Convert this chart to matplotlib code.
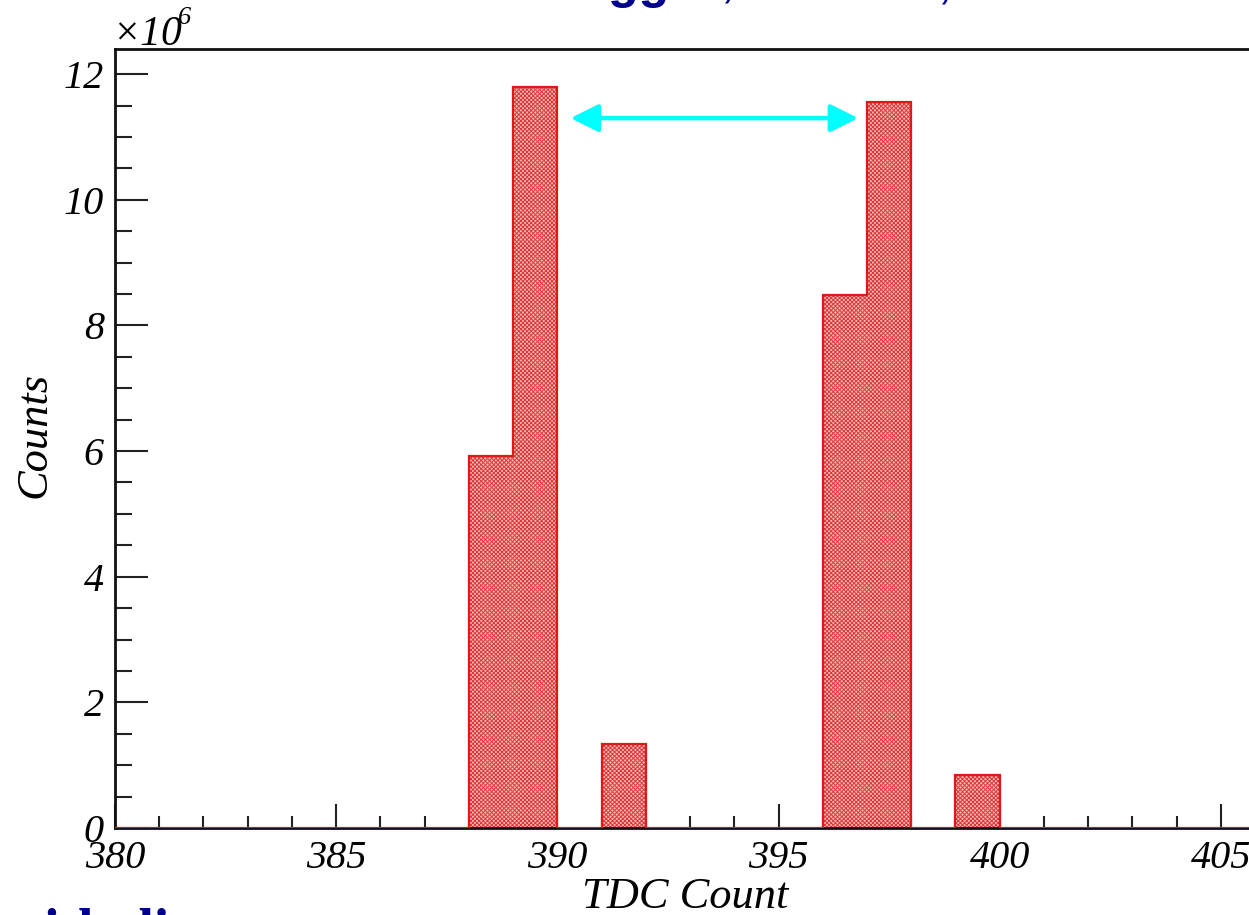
import numpy as np
import matplotlib.pyplot as plt
from matplotlib.ticker import MultipleLocator

# TDC histogram, one count per bin, counts in units of 1e6
bin_edges = np.arange(380, 411, 1)
bin_lo = [388, 389, 391, 396, 397, 399]
bin_val = [5.92, 11.8, 1.34, 8.49, 11.56, 0.84]

# separation marker between the two peaks
arrow_x = [390.3, 396.8]
arrow_y = 11.3

counts = np.zeros(len(bin_edges) - 1)
for lo, v in zip(bin_lo, bin_val):
    counts[lo - 380] = v

serif = 'Liberation Serif'
navy = '#00008c'
plt.rcParams['hatch.linewidth'] = 0.7

fig = plt.figure(figsize=[12.49, 9.15], dpi=100)
ax = fig.add_axes([115/1249, 87/915, 1327/1249, 779/915])

# hatched fill (hatch takes the edge colour), then the red outline on top
ax.bar(bin_edges[:-1], counts, width=1, align='edge', color='#f8baba',
       edgecolor='#dc3838', linewidth=0, hatch='x' * 8, zorder=2)
ax.stairs(counts, bin_edges, color='#e01818', linewidth=1.6, baseline=0, zorder=3)

ax.annotate('', xy=(arrow_x[1], arrow_y), xytext=(arrow_x[0], arrow_y),
            arrowprops=dict(arrowstyle='<|-|>', color='#00ffff', lw=3.2,
                            mutation_scale=42, shrinkA=0, shrinkB=0))

ax.set_xlim(380, 410)
ax.set_ylim(0, 12.4)
ax.xaxis.set_major_locator(MultipleLocator(5))
ax.xaxis.set_minor_locator(MultipleLocator(1))
ax.yaxis.set_major_locator(MultipleLocator(2))
ax.yaxis.set_minor_locator(MultipleLocator(0.5))
ax.tick_params(which='both', direction='in', width=1.5, color='#222222')
ax.tick_params(axis='x', which='major', length=17, pad=9)
ax.tick_params(axis='x', which='minor', length=8.5)
ax.tick_params(axis='y', which='major', length=24, pad=8)
ax.tick_params(axis='y', which='minor', length=12)
ax.tick_params(right=False, top=False)
for lab in ax.get_xticklabels() + ax.get_yticklabels():
    lab.set_fontfamily(serif)
    lab.set_fontstyle('italic')
    lab.set_fontsize(29)
ax.spines['right'].set_visible(False)
for s in ['left', 'top', 'bottom']:
    ax.spines[s].set_linewidth(2.0)
    ax.spines[s].set_color('#111111')

fig.text(685/1249, (915-908)/915, 'TDC Count', family=serif, style='italic',
         fontsize=32, ha='center', va='baseline')
fig.text(35/1249, (915-435)/915, 'Counts', family=serif, style='italic',
         fontsize=32, rotation=90, ha='center', va='center')
fig.text(112/1249, (915-45)/915, '\u00d710', family=serif, style='italic',
         fontsize=30, ha='left', va='baseline')
fig.text(178/1249, (915-24)/915, '6', family=serif, style='italic',
         fontsize=19, ha='left', va='baseline')

# slide text above and below the plot
fig.text(548/1249, (915+2)/915, 'Trigger', family='Liberation Sans',
         weight='bold', fontsize=36, color=navy, ha='left', va='baseline')
fig.text(724/1249, (915+2)/915, ',  25 ns', family='Liberation Sans',
         style='italic', fontsize=36, color=navy, ha='left', va='baseline')
fig.text(940/1249, (915+2)/915, ',', family='Liberation Sans',
         style='italic', fontsize=36, color=navy, ha='left', va='baseline')
fig.text(4/1249, (915-948)/915, 'with dist', family='Liberation Serif',
         weight='bold', fontsize=40, color=navy, ha='left', va='baseline')

fig.savefig('out.png', dpi=100)
